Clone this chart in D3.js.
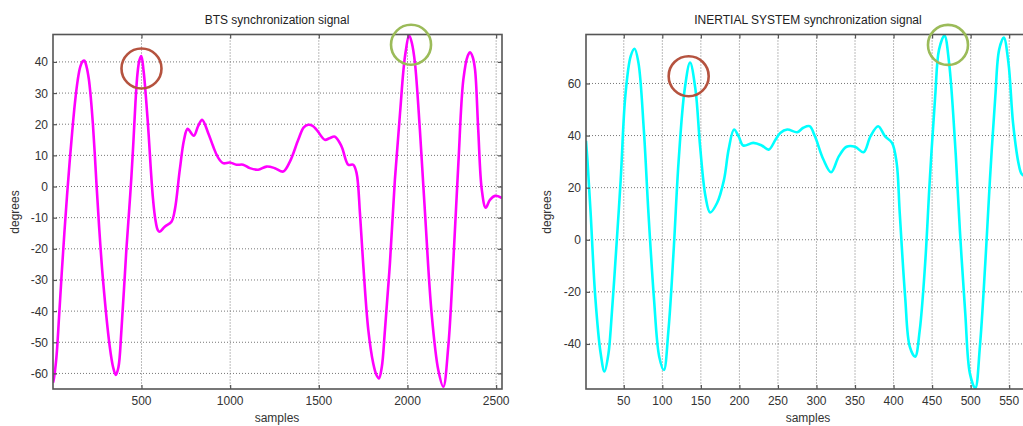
<!DOCTYPE html>
<html>
<head>
<meta charset="utf-8">
<script src="https://cdn.jsdelivr.net/npm/d3@7"></script>
<style>
    body { margin: 0; background: #fff; }
    svg { display: block; font-family: "Liberation Sans", Arial, sans-serif; }
    .grid line { stroke: #777; stroke-width: 1; stroke-dasharray: 1,2; }
    .frame { fill: none; stroke: #555; stroke-width: 1.6; }
    .ticklabel { font-size: 12px; fill: #333; }
    .title { font-size: 12px; fill: #222; }
</style>
</head>
<body>
<svg width="1023" height="426"></svg>
<script>
const btsSamples = [1, 5, 20, 35, 50, 65, 80, 95, 110, 125, 140, 155, 170, 178, 190, 203, 215, 226, 236, 246, 260, 283, 321, 340, 355, 370, 387, 415, 430, 443, 455, 466, 477, 488, 499, 512, 526, 540, 552, 565, 578, 592, 603, 631, 669, 688, 716, 740, 760, 795, 820, 842, 876, 904, 930, 960, 998, 1036, 1073, 1111, 1158, 1205, 1252, 1299, 1337, 1384, 1415, 1440, 1465, 1488, 1534, 1560, 1591, 1628, 1666, 1694, 1713, 1732, 1750, 1779, 1807, 1825, 1839, 1855, 1873, 1901, 1929, 1958, 1986, 2010, 2025, 2042, 2070, 2099, 2136, 2174, 2202, 2230, 2258, 2287, 2315, 2340, 2353, 2368, 2381, 2399, 2419, 2441, 2465, 2494, 2533];
const btsDegrees = [-63, -62, -55, -42, -28, -15, -3, 8, 18, 27, 34, 38.5, 40.3, 40.4, 38.5, 34.5, 28, 20, 11, 1, -12, -30, -51.4, -58, -60.5, -58, -46, -20, -8, 3, 15, 27, 36, 40.5, 41.9, 37, 28, 17, 6, -4, -10.5, -14, -14.5, -12.9, -11.3, -7.5, 5.4, 15, 18.5, 16.3, 19.5, 21.4, 17.2, 12.9, 9.5, 7.5, 7.7, 7, 7, 5.9, 5.4, 6.4, 5.9, 4.8, 8, 15, 19, 19.8, 19.5, 18.2, 15, 15.5, 16, 12.9, 7, 7, 4.3, -8.6, -24.6, -46, -56.8, -60.5, -61.6, -58, -46, -24.6, 2.2, 23.6, 41.8, 48.5, 46, 39.7, 18.2, -8.6, -40.7, -59, -64.3, -51.4, -24.6, 7.5, 34.3, 42, 43.1, 41.5, 37.5, 18.2, -1, -6.8, -4.3, -3, -3.7];

const imuSamples = [1, 3, 7, 13, 20, 25, 30, 33, 39, 46, 52, 59, 64, 69, 76, 82, 89, 96, 102, 108, 115, 121, 129, 136, 143, 149, 156, 162, 171, 180, 186, 193, 199, 205, 218, 229, 238, 247, 253, 262, 275, 283, 291, 298, 309, 319, 329, 339, 350, 361, 370, 380, 389, 398, 404, 408, 415, 421, 428, 434, 441, 447, 454, 459, 466, 472, 480, 486, 493, 499, 506, 512, 519, 525, 532, 537, 543, 549, 555, 562, 566, 570, 577];
const imuDegrees = [38, 30, 10.3, -21.8, -43.6, -50.6, -44, -34.6, -9, 23, 55.1, 70.5, 73.3, 68, 42.3, 10.3, -21.8, -44.9, -50, -34.6, -2.6, 29.5, 57.7, 68, 57.7, 35.9, 16.7, 10.5, 14.1, 23, 34.6, 42.3, 39.7, 36.2, 37.2, 36.2, 34.6, 38.5, 41, 42.3, 41.3, 43, 43.6, 39.7, 30.8, 25.9, 32, 35.7, 35.7, 33.6, 39.7, 43.6, 39.7, 37.2, 29.5, 10.3, -21.8, -41, -44.9, -34.6, -9, 23, 55.1, 73, 78.4, 68, 35.9, 3.8, -28.2, -51.3, -57, -41, -9, 23, 55.1, 73, 77.6, 68, 44.9, 29.5, 25.3, 24.5, 24.5];

const btsXTicks = [500, 1000, 1500, 2000, 2500];
const btsYTicks = [-60, -50, -40, -30, -20, -10, 0, 10, 20, 30, 40];
const imuXTicks = [50, 100, 150, 200, 250, 300, 350, 400, 450, 500, 550];
const imuYTicks = [-40, -20, 0, 20, 40, 60];

// circled peaks: [sample, degrees]
const btsRedMark = [500, 37.9];
const btsGreenMark = [2020, 45.5];
const imuRedMark = [134.2, 62.8];
const imuGreenMark = [470.6, 74.8];

const markRed = "#b5533f";
const markGreen = "#9bbb59";

var svg = d3.select("svg");

function drawPanel(opts) {
    let x = d3.scaleLinear().domain(opts.xDomain).range([opts.left, opts.right]);
    let y = d3.scaleLinear().domain(opts.yDomain).range([389, 34.5]);
    let g = svg.append("g");
    let w = opts.right - opts.left, h = 389 - 34.5;

    g.append("clipPath").attr("id", opts.id + "-clip")
        .append("rect").attr("x", opts.left).attr("y", 34.5).attr("width", w).attr("height", h);

    let grid = g.append("g").attr("class", "grid");
    grid.selectAll(".gx").data(opts.xTicks).enter().append("line")
        .attr("x1", d => x(d)).attr("x2", d => x(d))
        .attr("y1", 34.5).attr("y2", 389);
    grid.selectAll(".gy").data(opts.yTicks).enter().append("line")
        .attr("x1", opts.left).attr("x2", opts.right)
        .attr("y1", d => y(d)).attr("y2", d => y(d));

    let line = d3.line()
        .x(d => x(d[0]))
        .y(d => y(d[1]))
        .curve(d3.curveCatmullRom.alpha(0.5));

    g.append("path")
        .datum(d3.zip(opts.samples, opts.values))
        .attr("clip-path", `url(#${opts.id}-clip)`)
        .attr("d", line)
        .attr("fill", "none")
        .attr("stroke", opts.color)
        .attr("stroke-width", 2.6)
        .attr("stroke-linejoin", "round");

    // inward axes like matlab
    let xAxisB = d3.axisTop(x).tickValues(opts.xTicks).tickSize(4).tickFormat("");
    let xAxisT = d3.axisBottom(x).tickValues(opts.xTicks).tickSize(4).tickFormat("");
    let yAxisL = d3.axisRight(y).tickValues(opts.yTicks).tickSize(4).tickFormat("");
    let yAxisR = d3.axisLeft(y).tickValues(opts.yTicks).tickSize(4).tickFormat("");
    [[xAxisB, `translate(0,389)`], [xAxisT, `translate(0,34.5)`],
     [yAxisL, `translate(${opts.left},0)`], [yAxisR, `translate(${opts.right},0)`]].forEach(a => {
        let ag = g.append("g").attr("transform", a[1]).call(a[0]);
        ag.select(".domain").remove();
        ag.selectAll("line").attr("stroke", "#555").attr("stroke-width", 1.2);
    });

    g.append("rect").attr("class", "frame")
        .attr("x", opts.left).attr("y", 34.5).attr("width", w).attr("height", h);

    g.selectAll(".xl").data(opts.xTicks).enter().append("text")
        .attr("class", "ticklabel")
        .attr("x", d => x(d)).attr("y", 405)
        .attr("text-anchor", "middle")
        .text(d => d);
    g.selectAll(".yl").data(opts.yTicks).enter().append("text")
        .attr("class", "ticklabel")
        .attr("x", opts.left - 5).attr("y", d => y(d) + 4.5)
        .attr("text-anchor", "end")
        .text(d => d);

    g.append("text").attr("class", "title")
        .attr("x", opts.titleX).attr("y", 24)
        .attr("text-anchor", "middle")
        .text(opts.title);
    g.append("text").attr("class", "ticklabel")
        .attr("x", opts.titleX).attr("y", 422)
        .attr("text-anchor", "middle")
        .text("samples");
    g.append("text").attr("class", "ticklabel")
        .attr("transform", `translate(${opts.ylabelX},212) rotate(-90)`)
        .attr("text-anchor", "middle")
        .text("degrees");

    opts.marks.forEach(m => {
        g.append("circle")
            .attr("cx", x(m[0][0])).attr("cy", y(m[0][1]))
            .attr("r", 20)
            .attr("fill", "none")
            .attr("stroke", m[1])
            .attr("stroke-width", 2.6);
    });
}

drawPanel({
    id: "bts", left: 53, right: 502,
    xDomain: [1, 2533], yDomain: [-65, 48.8],
    xTicks: btsXTicks, yTicks: btsYTicks,
    samples: btsSamples, values: btsDegrees, color: "#ff00ff",
    title: "BTS synchronization signal", titleX: 277, ylabelX: 19,
    marks: [[btsRedMark, markRed], [btsGreenMark, markGreen]]
});

drawPanel({
    id: "imu", left: 586, right: 1030,
    xDomain: [1, 577], yDomain: [-57.3, 78.8],
    xTicks: imuXTicks, yTicks: imuYTicks,
    samples: imuSamples, values: imuDegrees, color: "#00ffff",
    title: "INERTIAL SYSTEM synchronization signal", titleX: 808, ylabelX: 551,
    marks: [[imuRedMark, markRed], [imuGreenMark, markGreen]]
});
</script>
</body>
</html>
